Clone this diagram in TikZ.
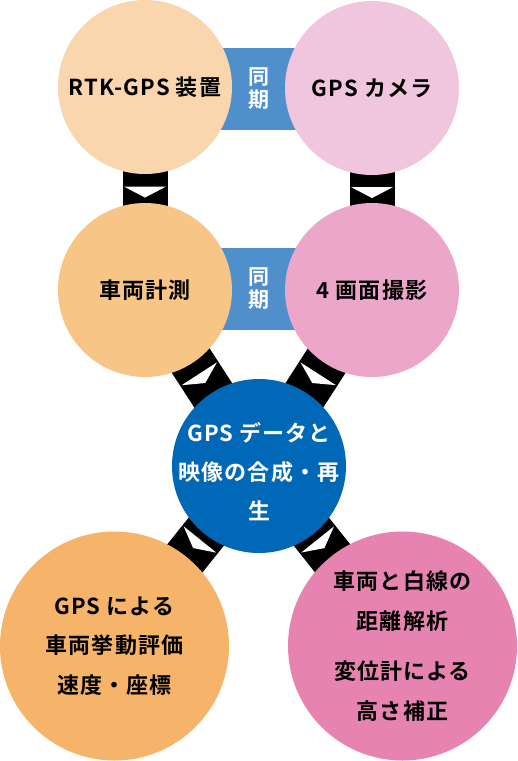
\documentclass[tikz,border=0pt]{standalone}
\usepackage{fontspec}
\setmainfont{Noto Sans CJK JP}[BoldFont={Noto Sans CJK JP Bold},LetterSpace=5]
\usetikzlibrary{decorations.markings}
\pgfdeclarelayer{bg}
\pgfsetlayers{bg,main}
\definecolor{cTL}{HTML}{F9D6AE}
\definecolor{cTR}{HTML}{F0C6DE}
\definecolor{cML}{HTML}{F7C586}
\definecolor{cMR}{HTML}{EBA6C9}
\definecolor{cC}{HTML}{0068B6}
\definecolor{cBL}{HTML}{F5B469}
\definecolor{cBR}{HTML}{E683B0}
\definecolor{cSync}{HTML}{4F8FCC}
\tikzset{
  bubble/.style={circle, inner sep=0pt, align=center, text=black,
    font=\bfseries\fontsize{22}{39.5}\selectfont},
  small/.style={bubble, minimum size=174pt},
  big/.style={bubble, minimum size=229pt},
  band/.style={line width=45pt, black},
  chev/.style={postaction={decorate, decoration={markings,
    mark=at position #1 with {\fill[white] (-5pt,-21pt) -- (-5pt,21pt) -- (6pt,0pt) -- cycle;}}}},
  syncbox/.style={fill=cSync, inner sep=0pt, minimum width=87pt, minimum height=82pt,
    text=white, align=center, font=\bfseries\fontsize{21}{23}\selectfont},
  ctext/.style={align=center, text=white, inner sep=0pt,
    font=\bfseries\fontsize{22}{39}\selectfont},
}
\begin{document}
\begin{tikzpicture}[x=1pt,y=-1pt]
\useasboundingbox (0,0) rectangle (518,761);
% sync boxes
\node[syncbox] (s1) at (258.5,89) {同\\期};
\node[syncbox] (s2) at (258.5,289) {同\\期};
% circles
\node[small, fill=cTL] (tl) at (145,87) {RTK-GPS 装置};
\node[small, fill=cTR] (tr) at (372,88) {GPS カメラ};
\node[small, fill=cML] (ml) at (145,290) {車両計測};
\node[small, fill=cMR] (mr) at (372,290) {4 画面撮影};
\node[small, fill=cC] (c) at (259,466) {};
\node[ctext] (ct) at (259,472) {GPS データと\\映像の合成・再\\生};
\node[big, fill=cBL] (bl) at (114.5,646) {GPS による\\車両挙動評価\\速度・座標};
\node[big, fill=cBR] (br) at (402.5,646) {車両と白線の\\距離解析\\[11pt]変位計による\\高さ補正};
% connectors
\begin{pgfonlayer}{bg}
\draw[band, chev=0.515] (tl.center) -- (ml.center);
\draw[band, chev=0.515] (tr.center) -- (mr.center);
\draw[band, chev=0.5] (ml.center) -- (c.center);
\draw[band, chev=0.5] (mr.center) -- (c.center);
\draw[band, chev=0.43] (c.center) -- (bl.center);
\draw[band, chev=0.43] (c.center) -- (br.center);
\end{pgfonlayer}
\end{tikzpicture}
\end{document}
